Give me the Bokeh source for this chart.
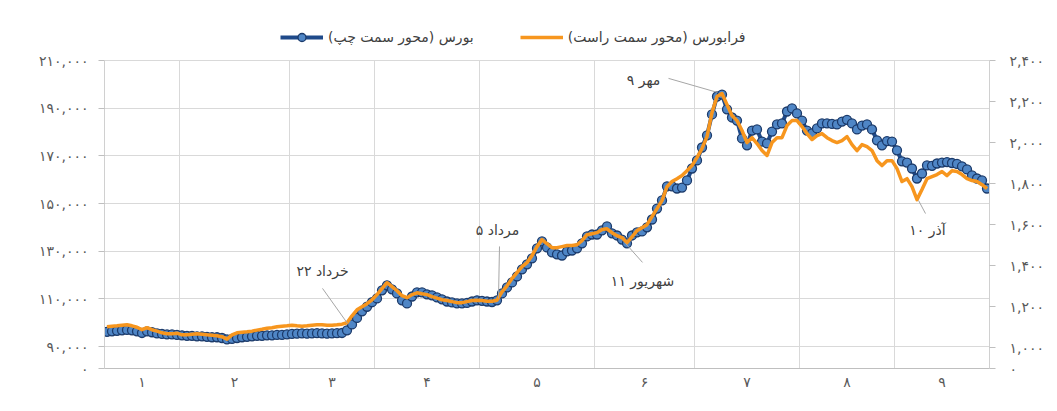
from bokeh.plotting import figure
from bokeh.models import (Range1d, LinearAxis, FixedTicker, Legend, LegendItem,
                          Label, ColumnDataSource)
from bokeh.embed import file_html
from bokeh.resources import INLINE

FA_DIGITS = "۰۱۲۳۴۵۶۷۸۹"


def fa(s):
    return "".join(FA_DIGITS[int(c)] if c.isdigit() else c for c in str(s))


# ---------------- data ----------------
month_labels = [fa(i) for i in range(1, 10)]          # Persian months 1..9
month_days = [15, 22, 17, 21, 23, 20, 21, 19, 19]    # trading days per month

# TEDPIX (left axis)
bourse = [
    96200, 96400, 96600, 96800, 97000, 96800, 96400, 95700, 96400, 96000, 95500, 95300, 95100, 95100, 94900,
    94700, 94500, 94500, 94300, 94300, 94100, 93900, 93900, 93600, 93000, 93200, 93600, 93900, 94100, 94300,
    94500, 94500, 94700, 94700, 94900, 94900, 95100,
    95300, 95400, 95500, 95400, 95500, 95600, 95500, 95400, 95500, 95600, 95700, 96800, 99300, 102000, 104800,
    106700, 108600,
    110200, 113600, 115700, 114000, 112300, 109400, 108100, 111000, 112700, 112700, 111900, 111500, 110600,
    109800, 108900, 108500, 108100, 108100, 108300, 108900, 109400,
    109200, 108900, 108700, 109400, 112300, 114800, 116900, 119400, 122400, 124500, 127000, 131200, 134100,
    131600, 129500, 128700, 128200, 129900, 130300, 131200, 133300, 136200, 137000,
    137000, 138700, 140400, 137500, 136600, 134900, 133300, 136600, 137900, 138300, 140000, 143300, 147900,
    151300, 157200, 157200, 156300, 156700, 159700, 164700,
    168100, 173500, 178600, 187400, 194900, 195700, 189500, 186100, 184800, 177300, 174400, 180600, 181100,
    176000, 175200, 180200, 183200, 183600, 188600, 189900, 187800,
    184800, 180600, 179400, 181500, 183600, 183600, 183400, 183200, 184400, 185100, 183600, 181100, 182700,
    183200, 181100, 176500, 174400, 176200, 176000,
    172300, 167700, 167200, 164700, 160500, 162600, 166000, 165800, 166800, 167200, 167400, 167000, 166600,
    165600, 164300, 161800, 160500, 159700, 156300,
]

# Farabourse index (right axis)
farabourse = [
    1102, 1105, 1107, 1110, 1112, 1107, 1100, 1088, 1098, 1088, 1081, 1073, 1068, 1068, 1071,
    1063, 1063, 1066, 1068, 1066, 1063, 1061, 1059, 1054, 1042, 1063, 1073, 1076, 1078, 1081, 1086, 1090,
    1095, 1098, 1102, 1105, 1107,
    1110, 1107, 1105, 1107, 1110, 1112, 1112, 1110, 1110, 1112, 1115, 1122, 1156, 1185, 1200, 1215, 1234,
    1259, 1288, 1317, 1298, 1278, 1254, 1244, 1259, 1268, 1263, 1259, 1249, 1242, 1234, 1230, 1225, 1220,
    1220, 1225, 1230, 1232,
    1230, 1227, 1227, 1232, 1273, 1302, 1337, 1366, 1395, 1415, 1449, 1493, 1527, 1507, 1488, 1488, 1493,
    1498, 1498, 1502, 1522, 1551, 1556,
    1561, 1576, 1580, 1561, 1546, 1537, 1512, 1541, 1571, 1585, 1600, 1639, 1678, 1717, 1785, 1810, 1824,
    1839, 1863, 1888,
    1927, 1971, 2029, 2146, 2224, 2239, 2185, 2132, 2107, 2059, 2000, 2024, 1995, 1961, 1937, 2000, 2024,
    2024, 2083, 2107, 2107,
    2078, 2044, 2015, 2034, 2044, 2024, 2010, 2000, 2010, 2029, 1990, 1961, 1990, 1980, 1961, 1912, 1888,
    1912, 1912,
    1873, 1810, 1824, 1785, 1722, 1771, 1824, 1834, 1844, 1859, 1839, 1863, 1859, 1844, 1824, 1815, 1810,
    1795, 1776,
]

left_ticks = [80800, 90000, 110000, 130000, 150000, 170000, 190000, 210000]
left_labels = ["۰"] + [fa(f"{v:,}") for v in left_ticks[1:]]
right_ticks = [899, 1000, 1200, 1400, 1600, 1800, 2000, 2200, 2400]
right_labels = ["۰"] + [fa(f"{v:,}") for v in right_ticks[1:]]

legend_labels = ["بورس (محور سمت چپ)", "فرابورس (محور سمت راست)"]

# annotation: text, label position (day index, left value), leader from, leader to
notes = [
    ("۲۲ خرداد", 43.1, 121500, (43.1, 114400), (48.1, 99700)),
    ("۵ مرداد", 78.1, 139100, (78.5, 132000), (78.3, 110200)),
    ("۱۱ شهریور", 107.1, 117300, (103.7, 133300), (107.1, 125300)),
    ("۹ مهر", 107.3, 202000, (112.3, 202500), (122.1, 196600)),
    ("۱۰ آذر", 164.1, 138700, (162.3, 151300), (163.7, 145800)),
]

# ---------------- derived ----------------
n = len(bourse)
x = list(range(n))
bounds = []
acc = 0
centers = []
for d in month_days:
    centers.append(acc + d / 2 - 0.5)
    acc += d
    bounds.append(acc - 0.5)
inner_bounds = bounds[:-1]

FONT = "DejaVu Sans"
GRID = "#d9d9d9"
TXT = "#595959"

# frame spans an extra band on top (for the legend); value axes stop at their top tick
TOP_PAD = 40 / 308  # fraction of the axis span
l0, l1 = left_ticks[0], left_ticks[-1]
r0, r1 = right_ticks[0], right_ticks[-1]

p = figure(width=1057, height=411, tools="", toolbar_location=None,
           output_backend="svg",
           x_range=Range1d(-0.5, n - 0.5),
           y_range=Range1d(l0, l1 + (l1 - l0) * TOP_PAD),
           min_border_left=104, min_border_right=68, min_border_top=20, min_border_bottom=43)
p.outline_line_color = None

p.extra_y_ranges = {"fb": Range1d(r0, r1 + (r1 - r0) * TOP_PAD)}

# grids
p.xgrid.visible = False
p.ygrid.ticker = FixedTicker(ticks=left_ticks[1:])
p.ygrid.grid_line_color = GRID
p.segment(x0=inner_bounds, y0=[l0] * len(inner_bounds), x1=inner_bounds,
          y1=[l1] * len(inner_bounds), line_color=GRID, line_width=1)

# x axis
xa = p.xaxis[0]
xa.ticker = FixedTicker(ticks=centers)
xa.major_label_overrides = {c: lab for c, lab in zip(centers, month_labels)}
xa.major_tick_line_color = None
xa.major_tick_out = 0
xa.major_tick_in = 0
xa.minor_tick_line_color = None
xa.axis_line_color = "#bfbfbf"
xa.major_label_text_font = FONT
xa.major_label_text_font_size = "14px"
xa.major_label_text_color = TXT
xa.major_label_standoff = 5

# left axis
ya = p.yaxis[0]
ya.bounds = (l0, l1)
ya.ticker = FixedTicker(ticks=left_ticks)
ya.major_label_overrides = {t: lab for t, lab in zip(left_ticks, left_labels)}
ya.major_tick_out = 6
ya.major_tick_in = 0
ya.major_tick_line_color = "#bfbfbf"
ya.minor_tick_line_color = None
ya.axis_line_color = "#d0d0d0"
ya.major_label_text_font = FONT
ya.major_label_text_font_size = "14px"
ya.major_label_text_color = TXT
ya.major_label_standoff = 10

# right axis
ra = LinearAxis(y_range_name="fb", bounds=(r0, r1))
ra.ticker = FixedTicker(ticks=right_ticks)
ra.major_label_overrides = {t: lab for t, lab in zip(right_ticks, right_labels)}
ra.major_tick_out = 6
ra.major_tick_in = 0
ra.major_tick_line_color = "#bfbfbf"
ra.minor_tick_line_color = None
ra.axis_line_color = "#d0d0d0"
ra.major_label_text_font = FONT
ra.major_label_text_font_size = "14px"
ra.major_label_text_color = TXT
ra.major_label_standoff = 14
p.add_layout(ra, "right")

src = ColumnDataSource(dict(x=x, b=bourse, f=farabourse))

bl = p.line("x", "b", source=src, line_color="#1f4a8a", line_width=4, line_join="round")
bs = p.scatter("x", "b", source=src, size=9, marker="circle", fill_color="#4f86c6",
               line_color="#1c3b6b", line_width=1.3)
fl = p.line("x", "f", source=src, y_range_name="fb", line_color="#f7961e", line_width=3.5,
            line_join="round")

# annotations
seg = dict(x0=[], y0=[], x1=[], y1=[])
for text, tx, ty, (x0, y0), (x1, y1) in notes:
    seg["x0"].append(x0); seg["y0"].append(y0); seg["x1"].append(x1); seg["y1"].append(y1)
    p.add_layout(Label(x=tx, y=ty, text=text, text_font=FONT, text_font_size="14px",
                       text_color="#404040", text_align="center", text_baseline="middle"))
p.segment("x0", "y0", "x1", "y1", source=ColumnDataSource(seg), line_color="#a6a6a6", line_width=1)

legend = Legend(items=[LegendItem(label=legend_labels[0], renderers=[bl, bs]),
                       LegendItem(label=legend_labels[1], renderers=[fl])],
                orientation="horizontal", location=(176, 321),
                border_line_color=None, background_fill_alpha=0,
                label_text_font=FONT, label_text_font_size="14px", label_text_color="#404040",
                glyph_width=43, glyph_height=20, label_height=20, label_standoff=5,
                spacing=46, padding=0, margin=0)
p.add_layout(legend)

open("out.html", "w").write(file_html(p, INLINE))
